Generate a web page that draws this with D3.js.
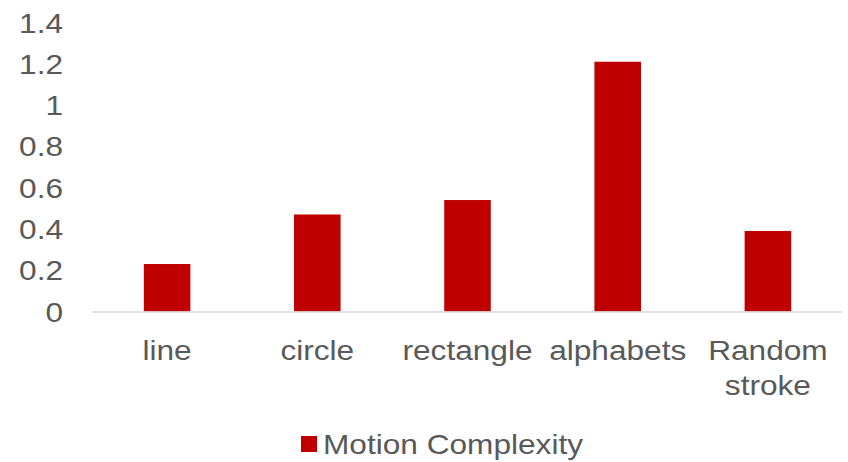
<!DOCTYPE html>
<html>
<head>
<meta charset="utf-8">
<script src="https://cdn.jsdelivr.net/npm/d3@7"></script>
<style>
  html, body { margin: 0; padding: 0; background: #fff; }
  svg { display: block; font-family: "Liberation Sans", Arial, sans-serif; }
</style>
</head>
<body>
<svg id="chart" width="848" height="462"></svg>
<script>
// Motion complexity per stroke type
const categories = ["line", "circle", "rectangle", "alphabets", "Random stroke"];
const values = [0.23, 0.47, 0.54, 1.21, 0.39];
const yTicks = [0, 0.2, 0.4, 0.6, 0.8, 1, 1.2, 1.4];
const seriesName = "Motion Complexity";

const svg = d3.select("#chart");
const W = 848;
const x0 = 92, x1 = W - 5;
const yBase = 311.5, yTop = 22.5;

const x = d3.scaleBand().domain(categories).range([x0, x1]).paddingInner(0.69).paddingOuter(0.345);
const y = d3.scaleLinear().domain([0, 1.4]).range([yBase, yTop]);

const textColor = "#595959";
const fontSize = 27.5;
const stretch = 1.15; // wide face: horizontal scale applied to labels

// places a text element at (px, py), widened horizontally about its anchor
function placeText(parent, px, py, anchor, str) {
  return parent.append("g")
    .attr("transform", `translate(${px},${py}) scale(${stretch},1)`)
    .append("text")
    .attr("text-anchor", anchor)
    .attr("font-size", fontSize)
    .attr("fill", textColor)
    .text(str);
}

// bars
svg.append("g").selectAll("rect")
  .data(categories)
  .join("rect")
  .attr("x", d => x(d))
  .attr("width", x.bandwidth())
  .attr("y", (d, i) => y(values[i]))
  .attr("height", (d, i) => y(0) - y(values[i]))
  .attr("fill", "#c00000");

// category axis line
svg.append("line")
  .attr("x1", x0).attr("x2", x1)
  .attr("y1", yBase + 0.5).attr("y2", yBase + 0.5)
  .attr("stroke", "#d9d9d9").attr("stroke-width", 1.5);

// value axis labels
const gy = svg.append("g");
yTicks.forEach(t => {
  placeText(gy, 63, y(t) + 10, "end", d3.format("")(+t.toFixed(1)));
});

// category labels (two-word label wrapped)
const xLabels = svg.append("g");
categories.forEach(c => {
  const cx = x(c) + x.bandwidth() / 2;
  const lines = c === "Random stroke" ? c.split(" ") : [c];
  lines.forEach((ln, i) => placeText(xLabels, cx, 360 + i * 35, "middle", ln));
});

// legend
const lg = svg.append("g");
lg.append("rect").attr("x", 301).attr("y", 436).attr("width", 16).attr("height", 16).attr("fill", "#c00000");
placeText(lg, 323, 454, "start", seriesName);
</script>
</body>
</html>
